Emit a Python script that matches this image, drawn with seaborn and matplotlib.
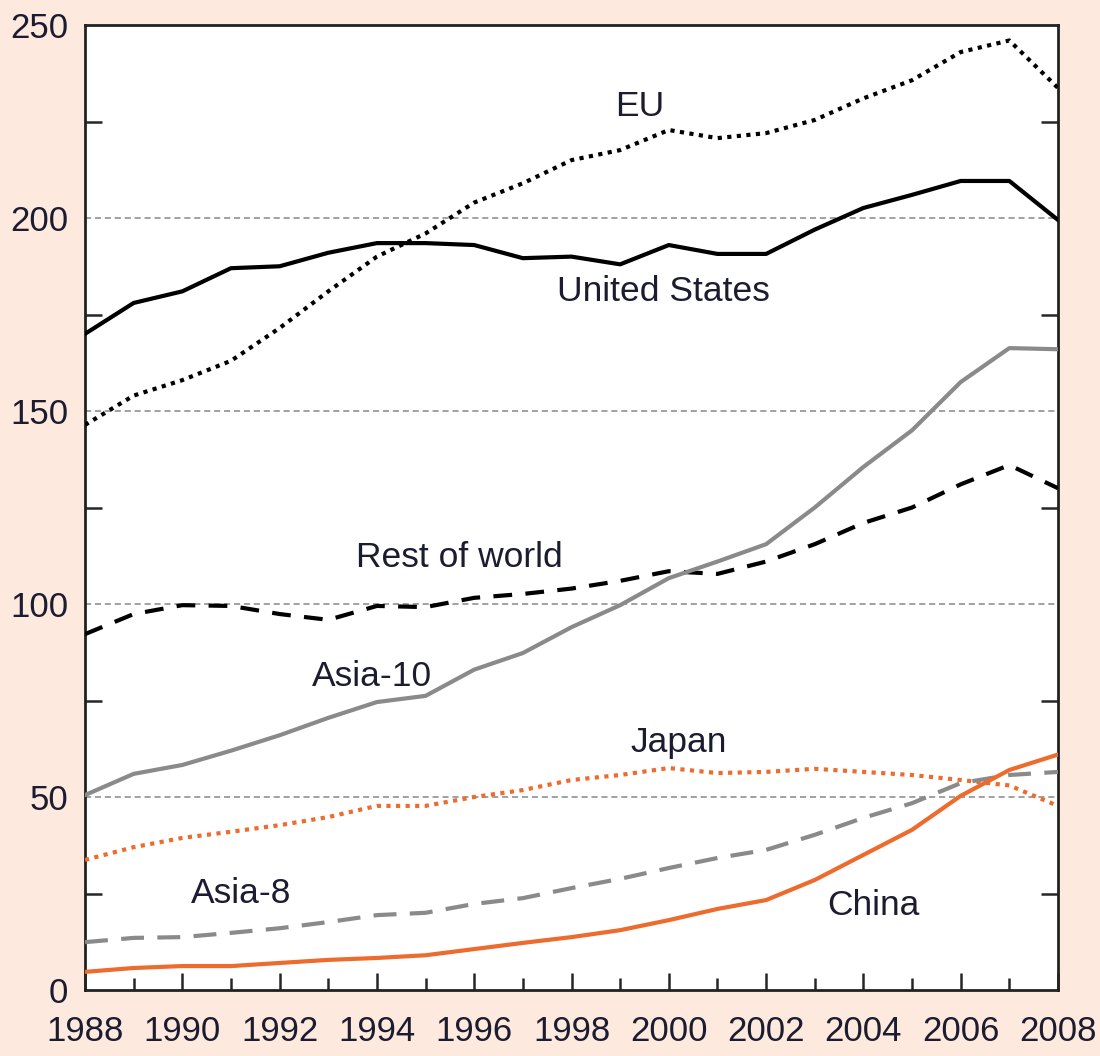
import matplotlib
matplotlib.use("Agg")
import matplotlib.pyplot as plt
import seaborn as sns
import numpy as np
import pandas as pd

years = list(range(1988, 2009))

united_states = [170, 178, 181, 187, 187.5, 191, 193.5, 193.5, 193, 189.6, 190, 188, 193, 190.7, 190.7, 197, 202.6, 206, 209.6, 209.6, 199.5]
eu = [146.4, 154, 158, 163, 171.5, 181, 190, 196, 204, 209, 215, 217.6, 222.8, 220.7, 222, 225.4, 231, 235.7, 243, 246, 233.7]
rest_of_world = [92.2, 97.4, 99.7, 99.5, 97.4, 95.9, 99.5, 99.2, 101.6, 102.6, 104, 106, 108.5, 107.8, 111, 115.5, 121, 125, 131, 136, 130]
asia_10 = [50.5, 56, 58.3, 62, 66, 70.5, 74.6, 76.2, 83, 87.3, 94, 99.7, 106.7, 111, 115.5, 125, 135.5, 145, 157.5, 166.3, 166]
japan = [33.7, 37, 39.4, 41, 42.7, 44.8, 47.7, 47.7, 50, 51.8, 54.4, 55.7, 57.5, 56.2, 56.5, 57.3, 56.5, 55.7, 54.4, 53, 47.7]
asia_8 = [12.4, 13.5, 13.7, 14.8, 16, 17.6, 19.4, 20, 22.3, 23.8, 26.4, 28.8, 31.6, 34.2, 36.3, 40.2, 44.6, 48.4, 53.6, 55.7, 56.5]
china = [4.7, 5.7, 6.2, 6.2, 7, 7.8, 8.3, 9, 10.6, 12.2, 13.7, 15.5, 18.1, 21, 23.3, 28.5, 35, 41.5, 50.3, 57, 61]

series_names = ["EU", "United States", "Rest of world", "Asia-10", "Japan", "Asia-8", "China"]
label_pos = {
    "EU": (1999.4, 229),
    "United States": (1999.9, 181),
    "Rest of world": (1995.7, 112),
    "Asia-10": (1993.9, 81.3),
    "Japan": (2000.2, 64.2),
    "Asia-8": (1991.2, 25.1),
    "China": (2004.2, 22),
}

sns.set_theme(style="white")
plt.rcParams['font.family'] = ['Liberation Sans', 'DejaVu Sans']

BG = "#fde9dd"
ORANGE = "#ec6b2d"
GRAY = "#8a8a8a"
TXT = "#1c1c30"

styles = {
    "United States": dict(color="black", ls="-"),
    "EU": dict(color="black", ls=(0, (1, 1.3))),
    "Rest of world": dict(color="black", ls=(0, (4.5, 3.2))),
    "Asia-10": dict(color=GRAY, ls="-"),
    "Japan": dict(color=ORANGE, ls=(0, (1, 1.3))),
    "Asia-8": dict(color=GRAY, ls=(0, (5.5, 3.2))),
    "China": dict(color=ORANGE, ls="-"),
}
values = {
    "United States": united_states, "EU": eu, "Rest of world": rest_of_world,
    "Asia-10": asia_10, "Japan": japan, "Asia-8": asia_8, "China": china,
}

fig = plt.figure(figsize=(11, 10.56), dpi=100, facecolor=BG)
ax = fig.add_axes([0.0773, 0.0625, 0.8845, 0.9138])
ax.set_facecolor("white")

for name in series_names:
    df = pd.DataFrame({"year": years, "value": values[name]})
    st = styles[name]
    sns.lineplot(data=df, x="year", y="value", ax=ax, color=st["color"],
                 linestyle=st["ls"], linewidth=3.0, zorder=3)

for name, (x, y) in label_pos.items():
    ax.text(x, y, name, ha="center", va="center", fontsize=25.5, color=TXT, zorder=4)

ax.set_xlim(1988, 2008)
ax.set_ylim(0, 250)
ax.set_xlabel("")
ax.set_ylabel("")

ax.set_xticks(range(1988, 2009, 2))
ax.set_xticks(range(1989, 2009, 2), minor=True)
ax.set_yticks([0, 50, 100, 150, 200, 250])
ax.set_yticks([25, 75, 125, 175, 225], minor=True)

for g in [50, 100, 150, 200]:
    ax.axhline(g, color="#888888", linestyle=(0, (4, 2.5)), linewidth=1.1, zorder=1)

ax.tick_params(axis="x", which="major", direction="in", length=12, width=1.8, labelsize=25,
               labelcolor=TXT, pad=18, top=False, bottom=True)
ax.tick_params(axis="x", which="minor", direction="in", length=9, width=1.8, top=False, bottom=True)
ax.tick_params(axis="y", which="major", direction="in", length=0, width=1.8, labelsize=25,
               labelcolor=TXT, pad=12, left=True, right=False)
ax.tick_params(axis="y", which="minor", direction="in", length=12, width=1.8, left=True, right=True)

for sp in ax.spines.values():
    sp.set_visible(True)
    sp.set_color("#222222")
    sp.set_linewidth(2)

fig.savefig("out.png", dpi=100, facecolor=BG)
